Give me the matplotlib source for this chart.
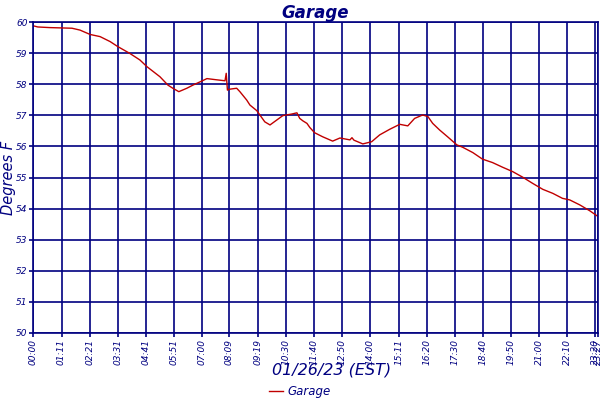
import matplotlib.pyplot as plt

# readings for 01/26/23, time of day and temperature
times = ['00:00', '00:12', '00:42', '01:37', '01:57', '02:22', '02:47', '03:12',
         '03:31', '04:01', '04:26', '04:44', '05:16', '05:36', '05:48', '06:03',
         '06:23', '06:38', '07:00', '07:13', '07:38', '07:58', '08:01', '08:04',
         '08:10', '08:27', '08:35', '08:52', '09:00', '09:17', '09:37', '09:50',
         '10:07', '10:22', '10:44', '10:57', '11:04', '11:12', '11:22', '11:29',
         '11:41', '12:01', '12:26', '12:44', '13:09', '13:14', '13:19', '13:41',
         '14:03', '14:23', '14:48', '15:13', '15:33', '15:50', '16:10', '16:23',
         '16:35', '16:52', '17:12', '17:35', '17:50', '18:15', '18:39', '19:04',
         '19:29', '19:54', '20:19', '20:44', '21:09', '21:34', '21:58', '22:16',
         '22:41', '23:06', '23:25']
temps = [59.88, 59.84, 59.82, 59.80, 59.74, 59.60, 59.53, 59.37,
         59.21, 58.99, 58.78, 58.56, 58.24, 57.97, 57.87, 57.76,
         57.87, 57.97, 58.10, 58.18, 58.14, 58.11, 58.35, 57.81,
         57.84, 57.87, 57.76, 57.49, 57.33, 57.15, 56.79, 56.69,
         56.85, 56.99, 57.04, 57.08, 56.90, 56.82, 56.74, 56.61,
         56.44, 56.31, 56.17, 56.27, 56.21, 56.28, 56.20, 56.08,
         56.15, 56.37, 56.55, 56.71, 56.66, 56.90, 57.01, 56.96,
         56.74, 56.53, 56.31, 56.05, 55.97, 55.80, 55.59, 55.48,
         55.33, 55.19, 55.01, 54.81, 54.62, 54.49, 54.33, 54.28,
         54.12, 53.93, 53.76]

tick_labels = ['00:00', '01:11', '02:21', '03:31', '04:41', '05:51', '07:00',
               '08:09', '09:19', '10:30', '11:40', '12:50', '14:00', '15:11',
               '16:20', '17:30', '18:40', '19:50', '21:00', '22:10', '23:20',
               '23:27']
y_ticks = [50, 51, 52, 53, 54, 55, 56, 57, 58, 59, 60]


def to_min(t):
    h, m = t.split(':')
    return int(h) * 60 + int(m)


x = [to_min(t) for t in times]
xt = [to_min(t) for t in tick_labels]

navy = '#000080'
plt.rcParams['font.family'] = ['DejaVu Sans']

fig = plt.figure(figsize=(6, 4), dpi=100)
ax = fig.add_axes([0.055, 0.1675, 0.942, 0.7775])

ax.plot(x, temps, color='#c00000', linewidth=1.0, label='Garage')

ax.set_xlim(0, xt[-1])
ax.set_ylim(50, 60)
ax.set_xticks(xt)
ax.set_xticklabels(tick_labels, rotation=90, fontsize=6.5, style='italic', color=navy)
ax.set_yticks(y_ticks)
ax.set_yticklabels([str(v) for v in y_ticks], fontsize=6.5, style='italic', color=navy)
ax.tick_params(axis='both', colors=navy, length=3, width=1.2, pad=1)
ax.grid(True, color=navy, linewidth=1.2)
for s in ax.spines.values():
    s.set_color(navy)
    s.set_linewidth(1.2)

ax.set_title('Garage', fontsize=12, style='italic', fontweight='bold', color=navy, pad=3)
fig.text(0.014, 0.555, 'Degrees F', rotation=90, ha='center', va='center',
         fontsize=10.5, style='italic', color=navy)
fig.text(0.553, 0.075, '01/26/23 (EST)', ha='center', va='center',
         fontsize=11.5, style='italic', color=navy)

fig.legend(loc='center', bbox_to_anchor=(0.5, 0.02), frameon=False,
           prop={'size': 8.5, 'style': 'italic'}, labelcolor=navy,
           handlelength=1.2, handletextpad=0.4, borderpad=0)

fig.savefig('out.png', dpi=100)
